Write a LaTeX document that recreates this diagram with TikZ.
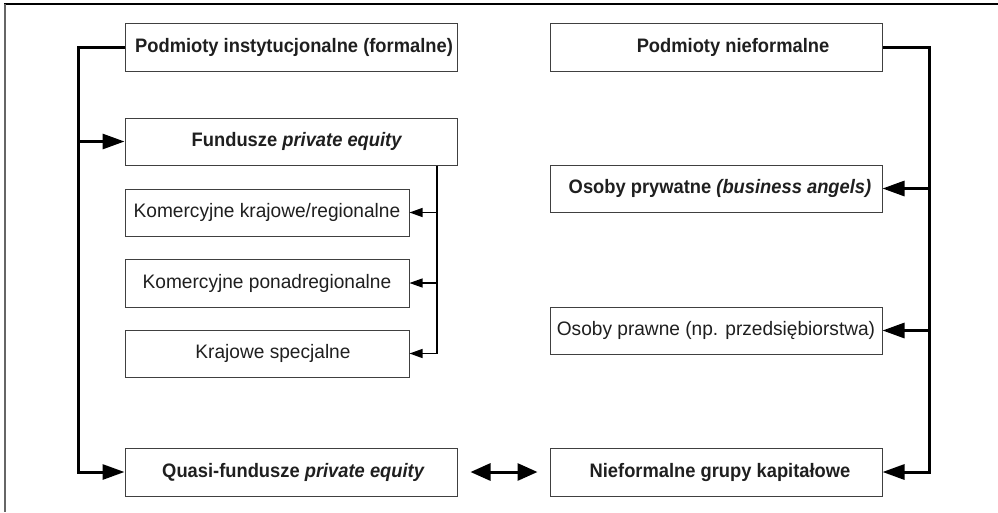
\documentclass[tikz,border=0pt]{standalone}
\usepackage{fontspec}
\setmainfont[FakeStretch=0.98]{Liberation Sans}
\newfontfamily\condfont[FakeStretch=0.94]{Liberation Sans}
\usetikzlibrary{arrows.meta,calc}
\begin{document}
\begin{tikzpicture}[x=1pt,y=-1pt,
  box/.style={draw=black!75, line width=1pt, inner sep=0pt, minimum height=47pt, text=black!88, font=\fontsize{19.5}{21}\selectfont},
  boxb/.style={box, font=\condfont\fontsize{19.5}{21}\selectfont\bfseries},
  wide/.style={minimum width=332pt},
  narrow/.style={minimum width=284pt},
  bus/.style={line width=3pt, line join=miter, -{Triangle[length=22pt,width=15pt]}},
  branch/.style={line width=3pt, -{Triangle[length=22pt,width=15pt]}},
  thinbus/.style={line width=1.2pt, -{Triangle[length=13pt,width=9pt]}},
  dbl/.style={line width=3pt, {Triangle[length=20pt,width=17pt]}-{Triangle[length=20pt,width=17pt]}}
]
\useasboundingbox (0,0) rectangle (998,512);
\draw[black, line width=1.5pt] (4,4) -- (998,4);
\draw[black!60, line width=2pt] (5,4) -- (5,512);

% left column
\node[boxb,wide, minimum height=48pt] (A) at (291,47) {\hspace*{6pt}Podmioty instytucjonalne (formalne)};
\node[boxb,wide] (B) at (291,141.5) {\hspace*{12pt}Fundusze \textit{private equity}};
\node[box,narrow] (C) at (267,212.5) {Komercyjne krajowe/regionalne};
\node[box,narrow, minimum height=48pt] (D) at (267,283) {Komercyjne ponadregionalne};
\node[box,narrow] (E) at (267,353.5) {\hspace*{12pt}Krajowe specjalne};
\node[boxb,wide, minimum height=48pt] (F) at (291,472) {\hspace*{5pt}Quasi-fundusze \textit{private equity}};

% right column
\node[boxb,wide, minimum height=48pt] (H) at (716,47) {\hspace*{34pt}Podmioty nieformalne};
\node[boxb,wide] (I) at (716,188.5) {\hspace*{8pt}Osoby prywatne \textit{(business angels)}};
\node[box,wide] (J) at (716,330.5) {Osoby prawne (np. przedsiębiorstwa)};
\node[boxb,wide, minimum height=48pt] (G) at (716,472) {\hspace*{8pt}Nieformalne grupy kapitałowe};

% bus coordinates
\coordinate (L) at (78,47);
\coordinate (R) at (929,47);
\coordinate (T) at (437,0);

% left thick bus
\draw[bus] (A.west) -- (L) |- (F.west);
\draw[branch] (L |- B.west) -- (B.west);

% right thick bus
\draw[bus] (H.east) -- (R) |- (G.east);
\draw[branch] (R |- I.east) -- (I.east);
\draw[branch] (R |- J.east) -- (J.east);

% thin bus
\draw[thinbus] (B.south -| T) |- (E.east);
\draw[thinbus] (T |- C.east) -- (C.east);
\draw[thinbus] (T |- D.east) -- (D.east);

% double arrow
\draw[dbl, shorten <=13pt, shorten >=12pt] (F.east) -- (G.west);
\end{tikzpicture}
\end{document}
